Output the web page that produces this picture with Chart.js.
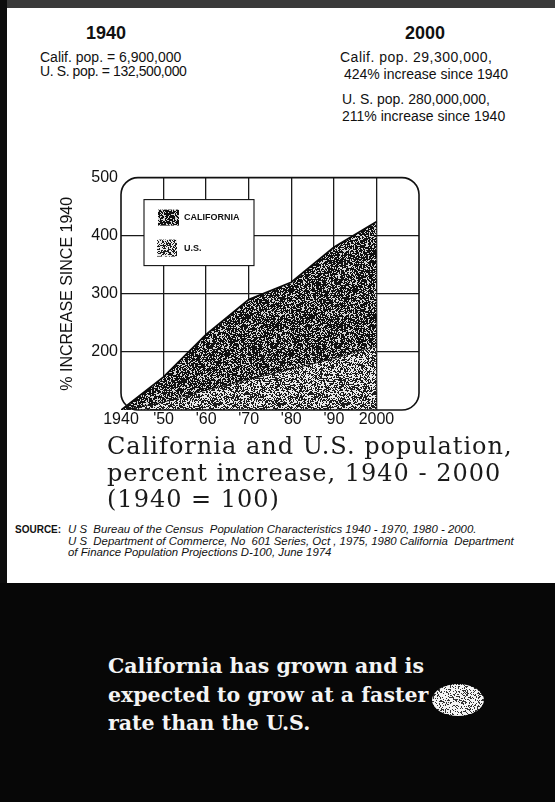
<!DOCTYPE html>
<html>
<head>
<meta charset="utf-8">
<script src="https://cdn.jsdelivr.net/npm/chart.js@4.4.1/dist/chart.umd.min.js"></script>
<style>
  body { margin: 0; }
  .page { position: relative; width: 555px; height: 802px; background: #fff; overflow: hidden; font-family: "Liberation Sans", Arial, sans-serif; color: #111; }
  .band-top { position: absolute; left: 0; top: 0; width: 555px; height: 8px; background: #3a3a3a; }
  .band-left { position: absolute; left: 0; top: 0; width: 7px; height: 590px; background: #0d0d0d; }
  .dark { position: absolute; left: 0; top: 583px; width: 555px; height: 219px; background: #070707; }
  .abs { position: absolute; white-space: nowrap; }
  .year { font-weight: bold; font-size: 18px; line-height: 18px; }
  .pop { font-size: 14px; line-height: 14px; }
  .pop-r { font-size: 14px; line-height: 16.5px; }
  .caption { font-family: "DejaVu Serif", serif; font-size: 24px; line-height: 26.5px; letter-spacing: 1px; color: #1a1a1a; }
  .source { font-size: 11.4px; line-height: 11.5px; }
  .source b { position: absolute; left: -53px; font-style: normal; font-size: 10px; }
  .headline { font-family: "DejaVu Serif", serif; font-weight: bold; font-size: 20.5px; line-height: 28.5px; color: #f4f4f4; }
  .chart-box { position: absolute; left: 58px; top: 165px; width: 372px; height: 270px; }
</style>
</head>
<body>
<div class="page">
  <div class="band-top"></div>
  <div class="band-left"></div>

  <div class="abs year" style="left:86px; top:24px;">1940</div>
  <div class="abs year" style="left:405px; top:24px;">2000</div>

  <div class="abs pop" style="left:40px; top:50px;">Calif. pop. = 6,900,000<br><span style="letter-spacing:-0.4px">U. S. pop. = 132,500,000</span></div>
  <div class="abs pop-r" style="left:340px; top:49px;"><span style="letter-spacing:0.5px">Calif. pop. 29,300,000,</span><br>&nbsp;424% increase since 1940</div>
  <div class="abs pop-r" style="left:342px; top:91px;">U. S. pop. 280,000,000,<br>211% increase since 1940</div>

  <div class="chart-box"><canvas id="chart"></canvas></div>

  <div class="abs caption" style="left:107px; top:433px;">California and U.S. population,<br>percent increase, 1940 - 2000<br>(1940 = 100)</div>

  <div class="abs source" style="left:68px; top:524px; font-style:italic;">
    <b>SOURCE:</b>U S&nbsp; Bureau of the Census&nbsp; Population Characteristics 1940 - 1970, 1980 - 2000.<br>
    U S&nbsp; Department of Commerce, No&nbsp; 601 Series, Oct , 1975, 1980 California&nbsp; Department<br>
    of Finance Population Projections D-100, June 1974
  </div>

  <div class="dark"></div>
  <div class="abs headline" style="left:108px; top:652px;">California has grown and is<br>expected to grow at a faster<br>rate than the U.S.</div>
  <canvas id="blob" class="abs" width="54" height="34" style="left:431px; top:683px;"></canvas>
</div>

<script>
// data (1940 = 100)
const years = [1940, 1950, 1960, 1970, 1980, 1990, 2000];
const xTickLabels = ["1940", "'50", "'60", "'70", "'80", "'90", "2000"];
const seriesNames = ["CALIFORNIA", "U.S."];
const california = [100, 157, 230, 290, 320, 380, 424];
const us = [100, 114, 135, 153, 171, 189, 211];
const yTickLabels = ["200", "300", "400", "500"];

// stipple texture like the printed screen
function speckle(density, dark, light, seed) {
  const size = 64;
  const c = document.createElement("canvas");
  c.width = size;
  c.height = size;
  const g = c.getContext("2d");
  g.fillStyle = light;
  g.fillRect(0, 0, size, size);
  g.fillStyle = dark;
  for (let y = 0; y < size; y++) {
    for (let x = 0; x < size; x++) {
      let h = (Math.imul(x, 0x9e3779b1) ^ Math.imul(y + seed * 131, 0x85ebca77)) | 0;
      h ^= h >>> 16;
      h = Math.imul(h, 0x7feb352d);
      h ^= h >>> 15;
      h = Math.imul(h, 0x846ca68b);
      h ^= h >>> 16;
      if ((h >>> 0) % 100 < density) g.fillRect(x, y, 1, 1);
    }
  }
  return c;
}

const calTile = speckle(68, "#101010", "#d6d6d6", 7);
const usTile = speckle(50, "#1c1c1c", "#eaeaea", 31);
const ctx = document.getElementById("chart").getContext("2d");
const calPattern = ctx.createPattern(calTile, "repeat");
const usPattern = ctx.createPattern(usTile, "repeat");

// the little speckled blob next to the headline
const blob = document.getElementById("blob").getContext("2d");
blob.fillStyle = blob.createPattern(speckle(28, "#333", "#f4f4f4", 3), "repeat");
blob.beginPath();
blob.ellipse(27, 17, 26, 16, 0, 0, Math.PI * 2);
blob.fill();

const frame = {
  id: "frame",
  afterDraw(chart) {
    const a = chart.chartArea;
    const c = chart.ctx;
    c.save();
    // rounded border round the plot
    c.strokeStyle = "#111";
    c.lineWidth = 1.6;
    c.beginPath();
    c.roundRect(a.left, a.top, a.right - a.left, a.bottom - a.top, 17);
    c.stroke();

    // legend box
    const bx = a.left + 23, by = a.top + 22;
    c.fillStyle = "#fff";
    c.fillRect(bx, by, 110, 66);
    c.lineWidth = 1.1;
    c.strokeRect(bx, by, 110, 66);
    const swatches = [[14, 10, 21, 16], [13, 40, 20, 17]];
    chart.data.datasets.forEach((ds, i) => {
      const s = swatches[i];
      c.fillStyle = ds.backgroundColor;
      c.fillRect(bx + s[0], by + s[1], s[2], s[3]);
      c.fillStyle = "#111";
      c.font = "bold 9px 'Liberation Sans', Arial, sans-serif";
      c.textBaseline = "middle";
      c.fillText(ds.label, bx + 40, by + s[1] + s[3] / 2);
    });
    c.restore();
  }
};

new Chart(ctx, {
  type: "line",
  data: {
    datasets: [
      {
        label: seriesNames[0],
        data: years.map((y, i) => ({ x: y, y: california[i] })),
        fill: "+1",
        backgroundColor: calPattern,
        borderColor: "#0a0a0a",
        borderWidth: 1.7,
        pointRadius: 0,
        tension: 0,
      },
      {
        label: seriesNames[1],
        data: years.map((y, i) => ({ x: y, y: us[i] })),
        fill: "start",
        backgroundColor: usPattern,
        borderColor: "#111",
        borderWidth: 1.5,
        pointRadius: 0,
        tension: 0,
      },
    ],
  },
  options: {
    responsive: true,
    maintainAspectRatio: false,
    animation: false,
    layout: { padding: { top: 12, right: 11, left: 0, bottom: 0 } },
    plugins: {
      legend: { display: false },
      tooltip: { enabled: false },
    },
    scales: {
      x: {
        type: "linear",
        min: 1940,
        max: 2010,
        afterFit: (s) => { s.height = 25; },
        afterBuildTicks: (s) => {
          s.ticks = years.concat([2010]).map((v) => ({ value: v }));
        },
        border: { display: false },
        grid: {
          drawTicks: false,
          lineWidth: 1.3,
          color: (c) => (c.tick && (c.tick.value === 1940 || c.tick.value === 2010) ? "rgba(0,0,0,0)" : "#1a1a1a"),
        },
        ticks: {
          padding: 0,
          autoSkip: false,
          maxRotation: 0,
          color: "#111",
          font: { family: "'Liberation Sans', Arial, sans-serif", size: 16 },
          callback: (v) => {
            const i = years.indexOf(v);
            return i < 0 ? "" : xTickLabels[i];
          },
        },
      },
      y: {
        min: 100,
        max: 500,
        afterFit: (s) => { s.width = 63; },
        border: { display: false },
        grid: {
          drawTicks: false,
          lineWidth: 1.3,
          color: (c) => (c.tick && (c.tick.value === 100 || c.tick.value === 500) ? "rgba(0,0,0,0)" : "#1a1a1a"),
        },
        ticks: {
          stepSize: 100,
          padding: 3,
          color: "#111",
          font: { family: "'Liberation Sans', Arial, sans-serif", size: 16 },
          callback: (v) => {
            const i = yTickLabels.indexOf(String(v));
            return i < 0 ? "" : yTickLabels[i];
          },
        },
        title: {
          display: true,
          text: "% INCREASE SINCE 1940",
          color: "#111",
          padding: 0,
          font: { family: "'Liberation Sans', Arial, sans-serif", size: 16 },
        },
      },
    },
  },
  plugins: [frame],
});
</script>
</body>
</html>
